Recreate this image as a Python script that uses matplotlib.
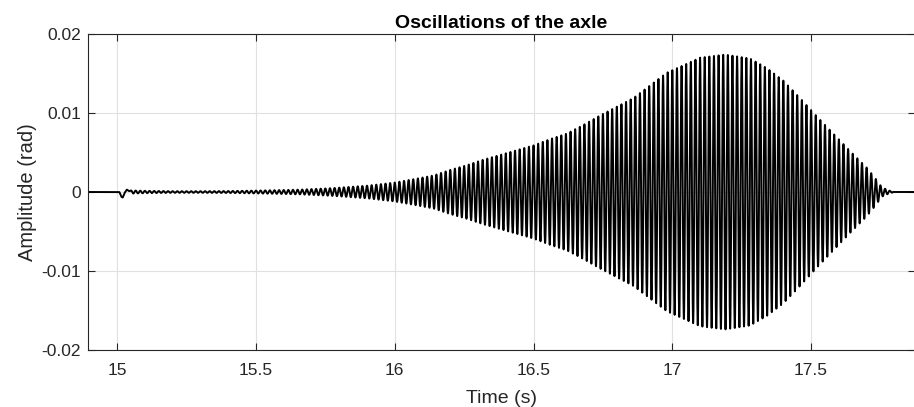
import numpy as np
import matplotlib
matplotlib.use("Agg")
import matplotlib.pyplot as plt

plt.rcParams['font.family'] = ['Liberation Sans', 'DejaVu Sans']

# envelope of the oscillation (time s, amplitude rad)
env_t = [15.05, 15.10, 15.20, 15.30, 15.40, 15.50, 15.60, 15.66, 15.78, 15.90,
         16.00, 16.08, 16.14, 16.20, 16.26, 16.32, 16.38, 16.44, 16.50, 16.56,
         16.62, 16.68, 16.74, 16.86, 16.98, 17.10, 17.19, 17.28, 17.34, 17.40,
         17.46, 17.52, 17.58, 17.64, 17.70, 17.73, 17.755, 17.78, 17.80]
env_a = [0.0002, 0.00015, 0.0001, 0.0001, 0.00012, 0.00018, 0.00025, 0.0003, 0.0005, 0.0008,
         0.0012, 0.0017, 0.0021, 0.0028, 0.0034, 0.0041, 0.0047, 0.0053, 0.0059, 0.0067,
         0.0074, 0.0085, 0.0097, 0.0119, 0.0151, 0.0170, 0.0174, 0.0169, 0.0157, 0.0141,
         0.0119, 0.0096, 0.0074, 0.0052, 0.0031, 0.0018, 0.0006, 0.0002, 0.0]
freq = 60.0          # oscillation frequency counted from the picture (Hz)

# initial kick at t=15 s
kick_t = [14.895, 15.0, 15.008, 15.015, 15.020, 15.027, 15.035, 15.043, 15.05]
kick_y = [0, 0, 0, -0.0006, -0.0007, -0.0001, 0.0003, 0.0001, 0.0002]

xticks = [15, 15.5, 16, 16.5, 17, 17.5]
xlabels = ['15', '15.5', '16', '16.5', '17', '17.5']
yticks = [-0.02, -0.01, 0, 0.01, 0.02]
ylabels = ['-0.02', '-0.01', '0', '0.01', '0.02']

t = np.linspace(14.895, 17.87, 60000)
y = np.interp(t, env_t, env_a, left=0, right=0) * np.cos(2*np.pi*freq*(t-15.05))
early = t < 15.05
y[early] = np.interp(t[early], kick_t, kick_y)

fig = plt.figure(figsize=(9.14, 4.07), dpi=100)
ax = fig.add_axes([0.0963, 0.140, 0.9047, 0.7765])
ax.plot(t, y, color='black', lw=1.4)

ax.set_xlim(14.895, 17.874)
ax.set_ylim(-0.02, 0.02)
ax.set_xticks(xticks)
ax.set_xticklabels(xlabels)
ax.set_yticks(yticks)
ax.set_yticklabels(ylabels)
ax.grid(True, color='#e0e0e0', lw=0.8)
ax.set_axisbelow(True)
ax.tick_params(direction='in', length=5, width=0.8, colors='#262626', labelsize=12.5,
               top=True, right=True)
ax.tick_params(axis='x', pad=9)
ax.tick_params(axis='y', pad=5)
for s in ax.spines.values():
    s.set_color('#262626')
    s.set_linewidth(0.8)

ax.set_title('Oscillations of the axle', fontsize=14, fontweight='bold', color='black', pad=4)
ax.set_xlabel('Time (s)', fontsize=14, color='#262626', labelpad=9)
ax.set_ylabel('Amplitude (rad)', fontsize=14.5, color='#262626', labelpad=3)

fig.savefig('out.png', dpi=100)
